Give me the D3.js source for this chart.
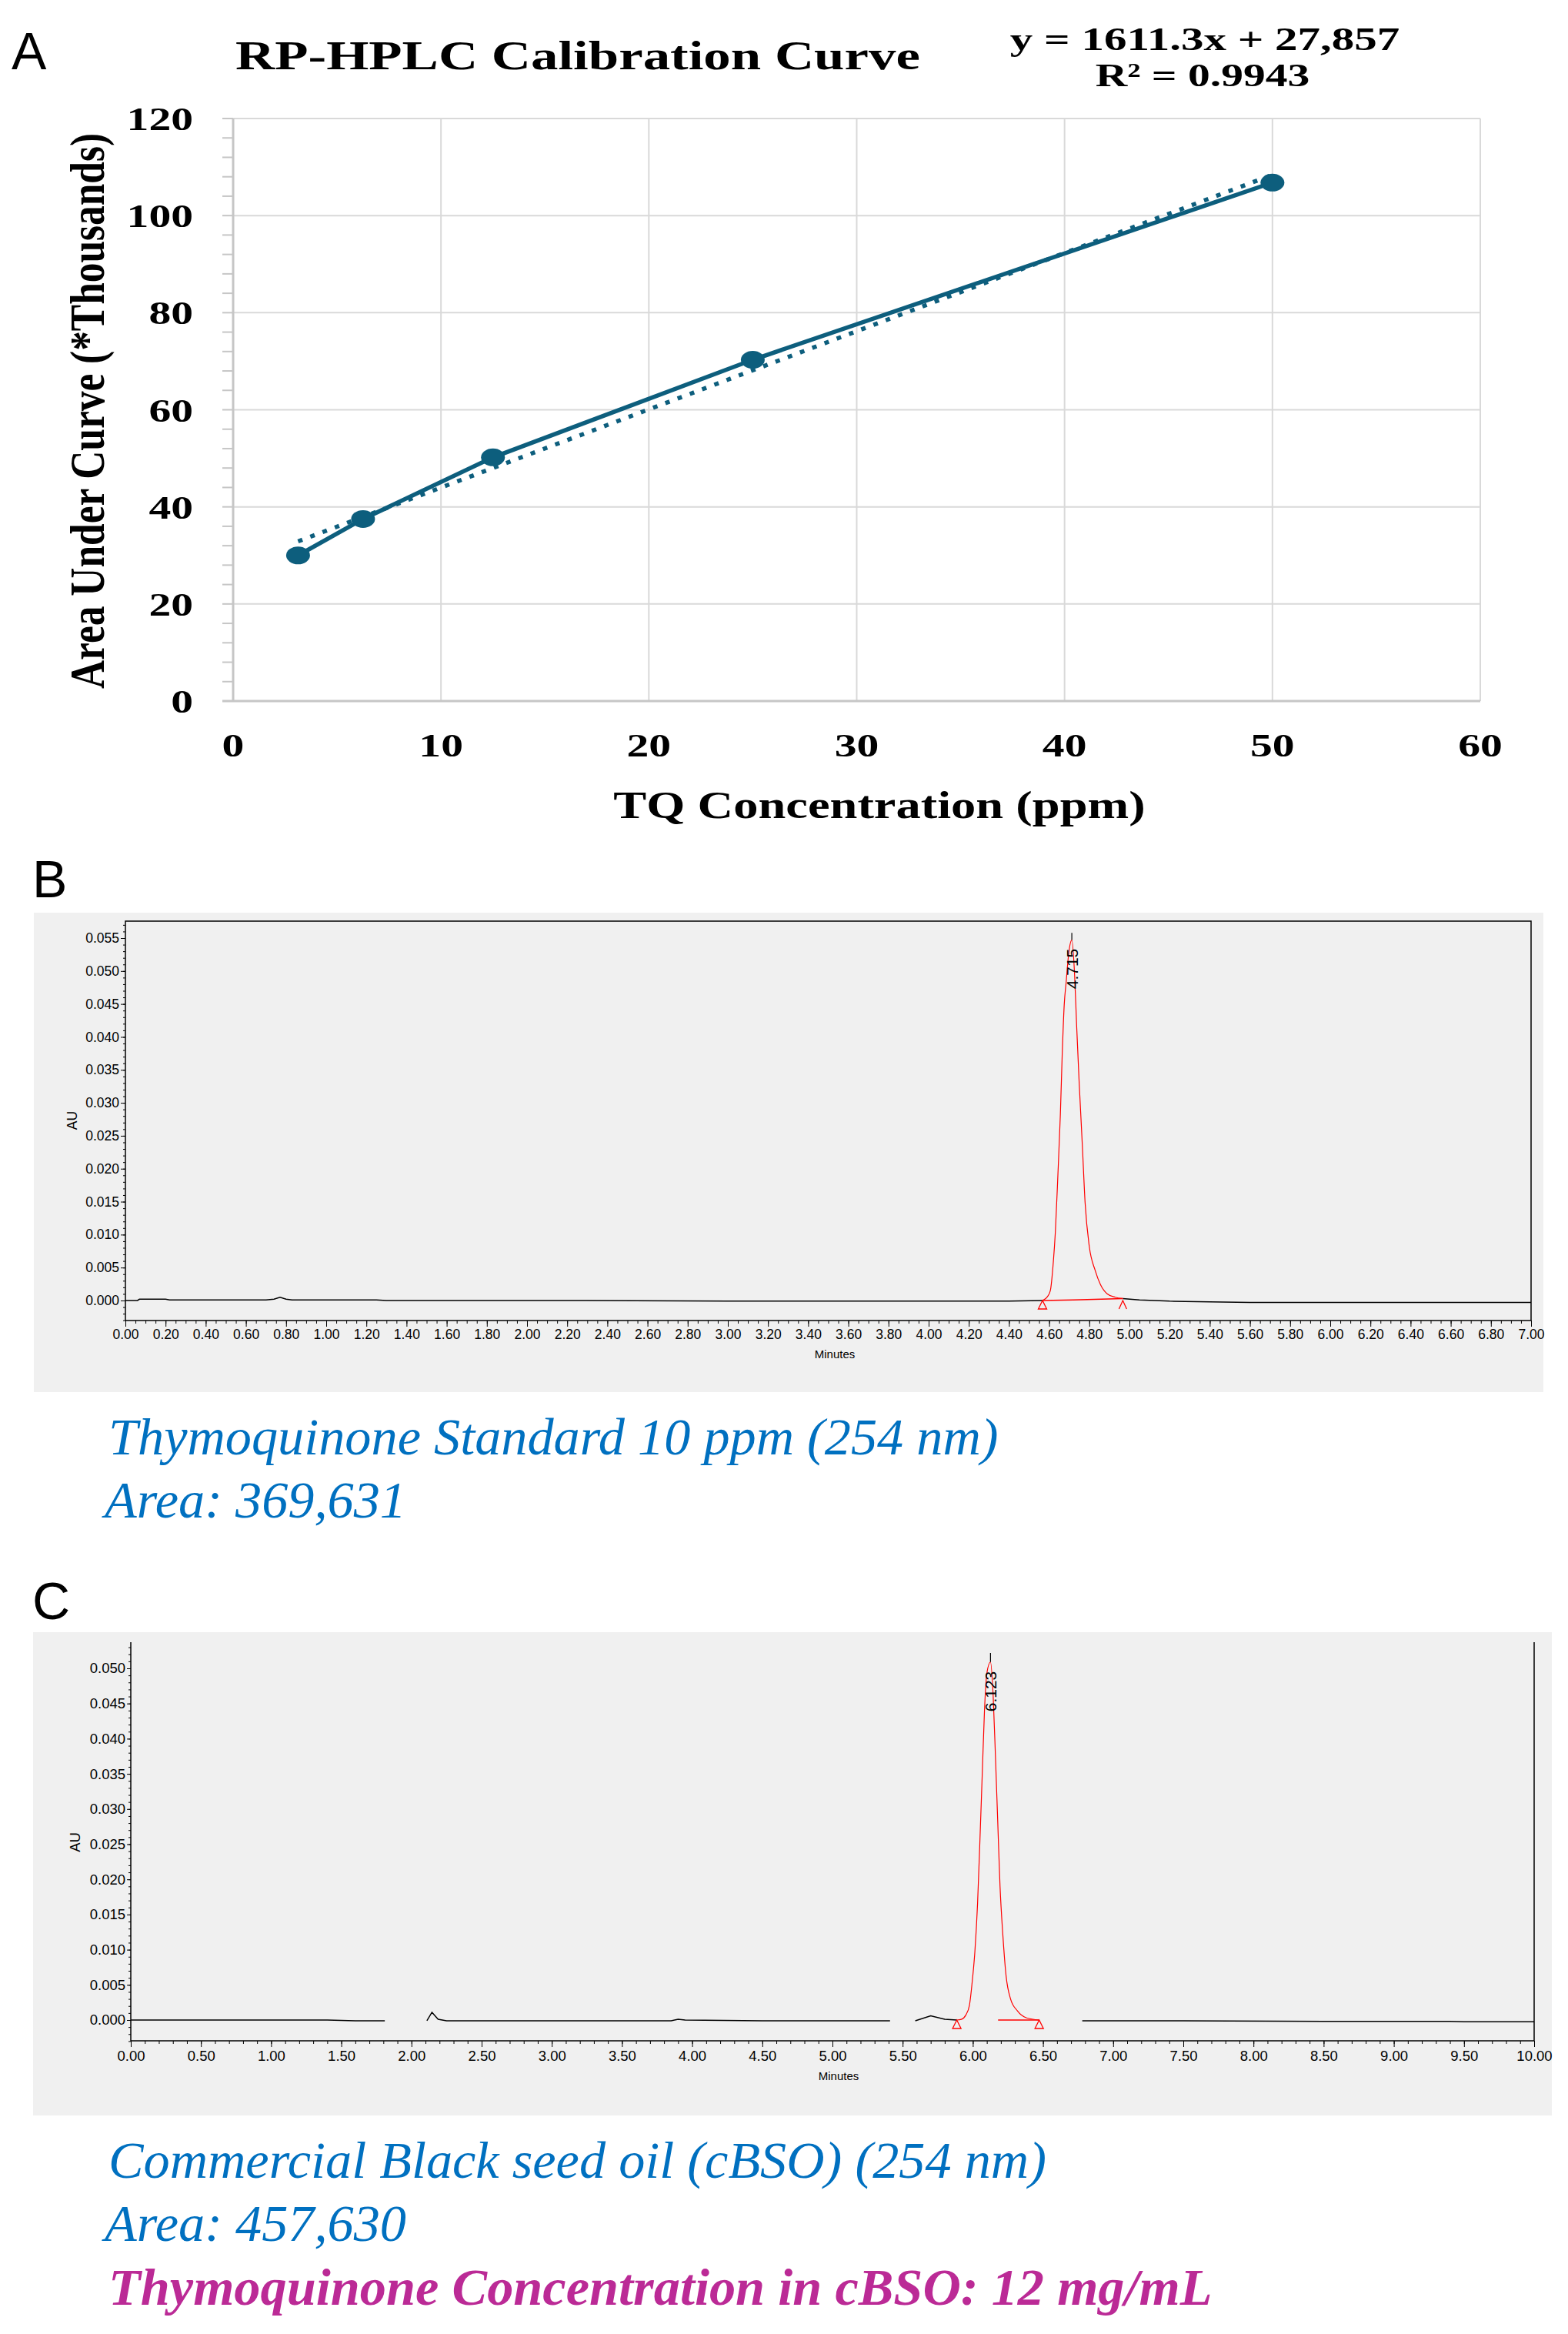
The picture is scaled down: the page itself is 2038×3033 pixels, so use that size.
<!DOCTYPE html>
<html>
<head>
<meta charset="utf-8">
<title>RP-HPLC calibration and chromatograms</title>
<script src="https://cdn.jsdelivr.net/npm/d3@7"></script>
<style>
  body { margin: 0; background: #fff; }
</style>
</head>
<body>
<div id="fig"></div>
<script>
// ---------- values ----------
// A: calibration curve, area in thousands
var concPpm = [3.125, 6.25, 12.5, 25, 50];
var areaK = [30.0, 37.5, 50.2, 70.3, 106.8];
var trendConc = [3.125, 50];
var trendAreaK = [32.9, 108.4];
var xTicksA = [0, 10, 20, 30, 40, 50, 60];
var yTicksA = [0, 20, 40, 60, 80, 100, 120];
var yMinorA = d3.range(0, 121, 4);
var titleA = "RP-HPLC Calibration Curve";
var eqA = "y = 1611.3x + 27,857";
var r2A = "R\u00b2 = 0.9943";

// B: TQ standard chromatogram (minutes, AU); null = gap in trace
var traceB1 = [[0, 0], [0.06, 0], [0.07, 0.0002], [0.2, 0.0002], [0.22, 0.0001], [0.7, 0.0001],
  [0.74, 0.0002], [0.77, 0.0005], [0.8, 0.0002], [0.83, 0.0001], [1.25, 0.0001], [1.3, 0],
  [2.2, 0], [3.0, -0.0001], [4.4, -0.0001], [4.567, 0]];
var traceB2 = [[4.967, 0.0003], [5.05, 0.0001], [5.2, -0.0001], [5.4, -0.0002], [5.6, -0.0003], [7.0, -0.0003]];
var peakB = [[4.567, 0], [4.592, 0.0006], [4.606, 0.0015], [4.621, 0.0059], [4.631, 0.0104],
  [4.644, 0.0193], [4.656, 0.0283], [4.665, 0.0372], [4.675, 0.0448], [4.685, 0.0484],
  [4.698, 0.0528], [4.713, 0.0547], [4.727, 0.0493], [4.737, 0.0417], [4.750, 0.0328],
  [4.765, 0.0238], [4.779, 0.0149], [4.800, 0.0082], [4.829, 0.0046], [4.856, 0.0024],
  [4.890, 0.0010], [4.929, 0.0005], [4.967, 0.0003]];
var baseB = [[4.567, 0], [4.72, 0.0001], [4.86, 0.0002], [4.967, 0.0003]];
var limitsB = [4.567, 4.967];
var apexB = {t: 4.713, v: 0.0547, top: 0.0558, label: "4.715"};
var xMajorB = d3.range(0, 36).map(function(i){ return i / 5; });
var xMinorB = d3.range(0, 141).map(function(i){ return i / 20; });
var yMajorB = d3.range(0, 12).map(function(i){ return i / 200; });
var yMinorB = d3.range(-3, 58).map(function(i){ return i / 1000; });
var captionB = ["Thymoquinone Standard 10 ppm (254 nm)", "Area: 369,631"];

// C: commercial black seed oil chromatogram
var traceC = [[0, 0], [0.5, 0], [1.0, 0], [1.4, 0], [1.6, -0.0001], [1.81, -0.0001], [1.82, null],
  [2.11, -0.0001], [2.146, 0.0011], [2.19, 0.0001], [2.25, -0.0001], [3.0, -0.0001],
  [3.85, -0.0001], [3.9, 0.0001], [3.95, 0], [4.5, -0.0001], [5.41, -0.0001], [5.45, null],
  [5.59, -0.0001], [5.70, 0.0006], [5.80, 0.0001], [5.886, 0], [5.9, null],
  [6.78, -0.0001], [7.5, -0.0001], [8.5, -0.0002], [9.4, -0.0002], [9.5, -0.00025], [10, -0.00025]];
var peakC = [[5.886, 0], [5.918, 0.0001], [5.950, 0.0007], [5.976, 0.0021], [5.995, 0.0053],
  [6.015, 0.0098], [6.034, 0.0166], [6.051, 0.0257], [6.067, 0.0348], [6.083, 0.0439],
  [6.100, 0.0493], [6.126, 0.0509], [6.145, 0.0461], [6.162, 0.0371], [6.178, 0.0280],
  [6.194, 0.0190], [6.214, 0.0121], [6.237, 0.0063], [6.269, 0.0030], [6.318, 0.0013],
  [6.383, 0.0003], [6.473, 0]];
var baseC = [[6.18, 0], [6.473, 0]];
var limitsC = [5.886, 6.473];
var apexC = {t: 6.126, v: 0.0509, top: 0.0522, label: "6.123"};
var xMajorC = d3.range(0, 21).map(function(i){ return i / 2; });
var xMinorC = d3.range(0, 101).map(function(i){ return i / 10; });
var yMajorC = d3.range(0, 11).map(function(i){ return i / 200; });
var yMinorC = d3.range(-3, 54).map(function(i){ return i / 1000; });
var captionC = ["Commercial Black seed oil (cBSO) (254 nm)", "Area: 457,630"];
var resultC = "Thymoquinone Concentration in cBSO: 12 mg/mL";

// ---------- drawing ----------
var W = 2038, H = 3033;
var SANS = '"Liberation Sans", Arial, sans-serif';
var SERIF = '"Liberation Serif", "Times New Roman", serif';
var TEAL = "#0d5e7d";
var STRETCH = 1.34;   // the calibration chart is stretched sideways in the figure

var svg = d3.select("#fig").append("svg").attr("width", W).attr("height", H);
svg.append("rect").attr("width", W).attr("height", H).attr("fill", "#fff");

// panel letters
[["A", 15, 90], ["B", 42, 1166], ["C", 42, 2104]].forEach(function(p){
  svg.append("text").attr("x", p[1]).attr("y", p[2])
    .style("font-family", SANS).style("font-size", "68px").text(p[0]);
});

function wideText(g, x, y, str, size, anchor, len, rot) {
  var t = g.append("text")
    .attr("transform", "translate(" + x + "," + y + ") scale(" + STRETCH + ",1)" + (rot ? " rotate(" + rot + ")" : ""))
    .attr("text-anchor", anchor)
    .style("font-family", SERIF).style("font-weight", "bold").style("font-size", size + "px")
    .attr("fill", "#000")
    .text(str);
  if (len) t.attr("textLength", len).attr("lengthAdjust", "spacingAndGlyphs");
  return t;
}

// ===== Panel A =====
var xA = d3.scaleLinear().domain([0, 60]).range([303, 1924]);
var yA = d3.scaleLinear().domain([0, 120]).range([911, 154]);
var gA = svg.append("g");

gA.selectAll("line.vg").data(xTicksA.slice(1)).enter().append("line").attr("class", "vg")
  .attr("x1", function(d){ return xA(d); }).attr("x2", function(d){ return xA(d); })
  .attr("y1", yA(0)).attr("y2", yA(120))
  .attr("stroke", "#d9d9d9").attr("stroke-width", 2);
gA.selectAll("line.hg").data(yTicksA.slice(1)).enter().append("line").attr("class", "hg")
  .attr("x1", xA(0)).attr("x2", xA(60))
  .attr("y1", function(d){ return yA(d); }).attr("y2", function(d){ return yA(d); })
  .attr("stroke", "#d9d9d9").attr("stroke-width", 2);
gA.selectAll("line.mt").data(yMinorA).enter().append("line").attr("class", "mt")
  .attr("x1", 289).attr("x2", xA(0))
  .attr("y1", function(d){ return yA(d); }).attr("y2", function(d){ return yA(d); })
  .attr("stroke", "#c6c6c6").attr("stroke-width", 2);
gA.append("line").attr("x1", xA(0)).attr("x2", xA(0)).attr("y1", yA(0)).attr("y2", yA(120))
  .attr("stroke", "#c6c6c6").attr("stroke-width", 3);
gA.append("line").attr("x1", 289).attr("x2", xA(60)).attr("y1", yA(0)).attr("y2", yA(0))
  .attr("stroke", "#c6c6c6").attr("stroke-width", 3);

var ptsA = concPpm.map(function(c, i){ return [c, areaK[i]]; });
var lineA = d3.line().x(function(d){ return xA(d[0]); }).y(function(d){ return yA(d[1]); });
gA.append("path").datum(ptsA).attr("d", lineA)
  .attr("fill", "none").attr("stroke", TEAL).attr("stroke-width", 5.5);
gA.append("path").datum(trendConc.map(function(c, i){ return [c, trendAreaK[i]]; })).attr("d", lineA)
  .attr("fill", "none").attr("stroke", TEAL).attr("stroke-width", 5.5).attr("stroke-dasharray", "6,11");
gA.selectAll("ellipse").data(ptsA).enter().append("ellipse")
  .attr("cx", function(d){ return xA(d[0]); }).attr("cy", function(d){ return yA(d[1]); })
  .attr("rx", 15.5).attr("ry", 11.5).attr("fill", TEAL);

yTicksA.forEach(function(d){ wideText(gA, 251, yA(d) + 15, String(d), 43, "end"); });
xTicksA.forEach(function(d){ wideText(gA, xA(d), 983, String(d), 43, "middle"); });

wideText(gA, 751, 90, titleA, 53, "middle", 664);
wideText(gA, 1566, 65, eqA, 42, "middle", 378);
wideText(gA, 1563, 112, r2A, 42, "middle", 208);
wideText(gA, 1143, 1063, "TQ Concentration (ppm)", 50, "middle", 516);
wideText(gA, 135, 534, "Area Under Curve (*Thousands)", 47, "middle", 722, -90);

// ===== Panels B and C =====
function drawChrom(o) {
  var g = svg.append("g");
  g.append("rect").attr("x", o.box[0]).attr("y", o.box[1])
    .attr("width", o.box[2] - o.box[0]).attr("height", o.box[3] - o.box[1])
    .attr("fill", "#f0f0f0");

  var x = d3.scaleLinear().domain(o.xDomain).range([o.left, o.right]);
  var y = d3.scaleLinear().domain(o.yDomain).range(o.yRange);

  function styleAxis(sel) {
    sel.select(".domain").remove();
    sel.selectAll("text").attr("font-family", SANS).attr("font-size", o.fs).attr("fill", "#000");
  }
  g.append("g").attr("transform", "translate(0," + o.bottom + ")")
    .call(d3.axisBottom(x).tickValues(o.xMinor).tickSize(4).tickFormat(""))
    .call(styleAxis);
  g.append("g").attr("transform", "translate(0," + o.bottom + ")")
    .call(d3.axisBottom(x).tickValues(o.xMajor).tickSize(8).tickPadding(o.xPad).tickFormat(d3.format(".2f")))
    .call(styleAxis);
  g.append("g").attr("transform", "translate(" + o.left + ",0)")
    .call(d3.axisLeft(y).tickValues(o.yMinor).tickSize(3).tickFormat(""))
    .call(styleAxis);
  g.append("g").attr("transform", "translate(" + o.left + ",0)")
    .call(d3.axisLeft(y).tickValues(o.yMajor).tickSize(o.yTick).tickPadding(2).tickFormat(d3.format(".3f")))
    .call(styleAxis);

  var frame = "M" + o.left + "," + o.top + "V" + o.bottom + "H" + o.right + "V" + o.top;
  if (o.closed) frame += "Z";
  g.append("path").attr("d", frame).attr("fill", "none").attr("stroke", "#000").attr("stroke-width", 1.5);

  g.append("text").attr("transform", "translate(" + o.auPos[0] + "," + o.auPos[1] + ") rotate(-90)")
    .attr("text-anchor", "middle").attr("font-family", SANS).attr("font-size", o.fs).text("AU");
  g.append("text").attr("x", o.minPos[0]).attr("y", o.minPos[1])
    .attr("text-anchor", "middle").attr("font-family", SANS).attr("font-size", 15).text("Minutes");

  var line = d3.line().defined(function(d){ return d[1] !== null; })
    .x(function(d){ return x(d[0]); }).y(function(d){ return y(d[1]); });
  o.traces.forEach(function(tr){
    g.append("path").datum(tr).attr("d", line)
      .attr("fill", "none").attr("stroke", "#000").attr("stroke-width", 1.5);
  });
  g.append("path").datum(o.base).attr("d", line)
    .attr("fill", "none").attr("stroke", "#ff0000").attr("stroke-width", 1.5);
  g.append("path").datum(o.peak).attr("d", line.curve(d3.curveMonotoneX))
    .attr("fill", "none").attr("stroke", "#ff0000").attr("stroke-width", 1.2);

  // integration limit markers
  o.limits.forEach(function(t, i){
    var px = x(t), py = y(0);
    var d = (o.openEnd && i === 1)
      ? "M" + (px - 5) + "," + (py + 11) + "L" + px + "," + py + "L" + (px + 5) + "," + (py + 11)
      : "M" + px + "," + py + "L" + (px - 5.5) + "," + (py + 11) + "L" + (px + 5.5) + "," + (py + 11) + "Z";
    g.append("path").attr("d", d).attr("fill", "none").attr("stroke", "#ff0000").attr("stroke-width", 1.3);
  });

  // apex marker and retention time
  g.append("line").attr("x1", x(o.apex.t)).attr("x2", x(o.apex.t))
    .attr("y1", y(o.apex.v)).attr("y2", y(o.apex.top)).attr("stroke", "#000").attr("stroke-width", 1.2);
  g.append("text")
    .attr("transform", "translate(" + (x(o.apex.t) + 8) + "," + o.labelY + ") rotate(-90)")
    .attr("text-anchor", "middle").attr("font-family", SANS).attr("font-size", 21)
    .attr("fill", "#000").text(o.apex.label);
}

drawChrom({
  box: [44, 1186, 2006, 1809],
  left: 163, right: 1990, top: 1197, bottom: 1716, closed: true,
  xDomain: [0, 7], yDomain: [0, 0.055], yRange: [1690, 1219],
  xMajor: xMajorB, xMinor: xMinorB, yMajor: yMajorB, yMinor: yMinorB,
  fs: 17.5, xPad: 4, yTick: 6,
  auPos: [100, 1456], minPos: [1085, 1765],
  traces: [traceB1, traceB2], peak: peakB, base: baseB, limits: limitsB, openEnd: true,
  apex: apexB, labelY: 1259
});

drawChrom({
  box: [43, 2121, 2017, 2749],
  left: 170, right: 1994, top: 2134, bottom: 2652, closed: false,
  xDomain: [0, 10], yDomain: [0, 0.05], yRange: [2625, 2168],
  xMajor: xMajorC, xMinor: xMinorC, yMajor: yMajorC, yMinor: yMinorC,
  fs: 18.5, xPad: 5, yTick: 5,
  auPos: [104, 2394], minPos: [1090, 2703],
  traces: [traceC], peak: peakC, base: baseC, limits: limitsC, openEnd: false,
  apex: apexC, labelY: 2198
});

// captions
function caption(str, x, y, color, bold) {
  svg.append("text").attr("x", x).attr("y", y)
    .attr("font-family", SERIF).attr("font-style", "italic")
    .attr("font-weight", bold ? "bold" : "normal").attr("font-size", bold ? 68.4 : 68.3)
    .attr("fill", color).text(str);
}
caption(captionB[0], 141, 1890, "#0070c0");
caption(captionB[1], 136, 1972, "#0070c0");
caption(captionC[0], 141, 2830, "#0070c0");
caption(captionC[1], 136, 2912, "#0070c0");
caption(resultC, 141, 2995, "#bb2a96", true);
</script>
</body>
</html>
